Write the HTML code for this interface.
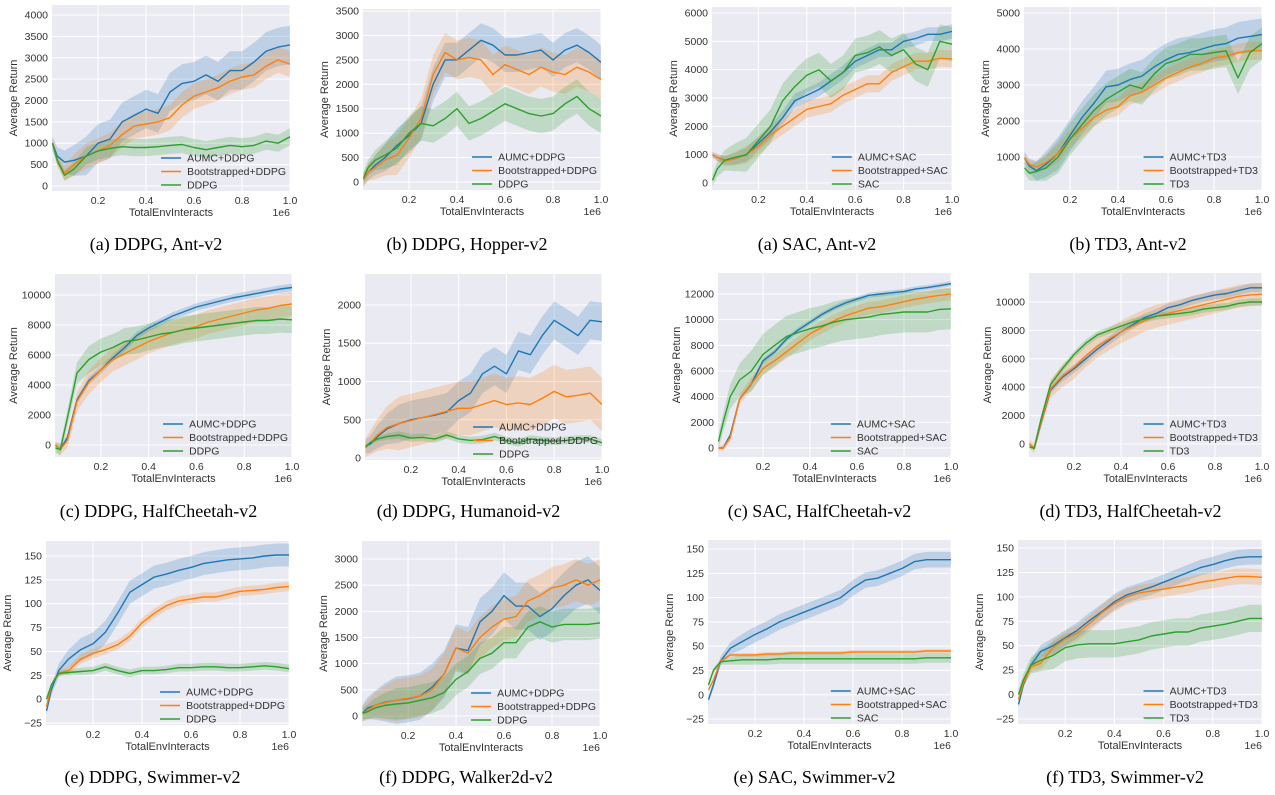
<!DOCTYPE html>
<html><head><meta charset="utf-8"><style>
html,body{margin:0;padding:0;background:#fff;}
svg{display:block;font-family:"Liberation Sans",sans-serif;}
.cap{font-family:"Liberation Serif",serif;font-size:18px;fill:#000;}
</style></head><body>
<svg id="fig" width="1275" height="795" viewBox="0 0 1275 795" xmlns="http://www.w3.org/2000/svg"></svg>
<script>
const X = [0.01,0.03,0.06,0.1,0.15,0.2,0.25,0.3,0.35,0.4,0.45,0.5,0.55,0.6,0.65,0.7,0.75,0.8,0.85,0.9,0.95,1.0];
const xTicks = [0.2,0.4,0.6,0.8,1.0];
const xTickLabels = ["0.2","0.4","0.6","0.8","1.0"];

// Panel 1: DDPG Ant
const p1Aumc = [1000,700,560,600,700,1000,1100,1500,1650,1800,1700,2200,2400,2450,2600,2450,2700,2700,2900,3150,3250,3300];
const p1Boot = [1000,600,300,500,700,820,950,1200,1400,1450,1500,1600,1900,2100,2200,2300,2450,2550,2600,2800,2950,2850];
const p1Base = [1000,600,250,400,700,820,880,920,900,900,920,950,970,900,850,900,950,920,950,1050,1000,1150];
const p1Spread = [450,300,200];
// Panel 2: DDPG Hopper
const p2Aumc = [50,200,350,500,750,950,1200,2000,2500,2500,2700,2900,2800,2600,2600,2650,2700,2500,2700,2800,2650,2450];
const p2Boot = [50,200,300,450,550,900,1300,2200,2650,2500,2550,2500,2200,2400,2300,2200,2350,2250,2200,2350,2250,2100];
const p2Base = [80,300,450,550,700,1000,1200,1150,1300,1500,1200,1300,1450,1600,1500,1400,1350,1400,1600,1750,1500,1350];
const p2Spread = [350,400,350];
// Panel 3: SAC Ant
const p3Aumc = [1000,900,800,850,1000,1400,1800,2300,2900,3100,3300,3600,3900,4300,4500,4700,4700,5000,5100,5250,5250,5350];
const p3Boot = [1000,900,780,850,1000,1300,1700,2000,2300,2600,2700,2800,3100,3300,3500,3500,3900,4100,4300,4300,4400,4380];
const p3Base = [100,500,800,900,1000,1500,2000,2900,3400,3800,4000,3600,3900,4500,4600,4800,4500,4700,4200,4000,5000,4900];
const p3Spread = [250,300,600];
// Panel 4: TD3 Ant
const p4Aumc = [980,750,620,800,1100,1600,2100,2500,2950,3000,3150,3250,3500,3700,3850,3900,4000,4100,4150,4300,4350,4400];
const p4Boot = [980,800,720,850,1100,1500,1800,2100,2300,2400,2700,2800,3000,3200,3350,3500,3600,3750,3800,3900,3950,3950];
const p4Base = [700,550,600,700,1000,1500,1900,2300,2600,2800,3000,2900,3300,3600,3700,3850,3850,3900,3950,3200,3900,4150];
const p4Spread = [450,250,450];
// Panel 5: DDPG HalfCheetah
const p5Aumc = [0,-300,500,3000,4300,5000,5800,6500,7300,7800,8200,8600,8900,9200,9400,9600,9800,9950,10100,10250,10400,10500];
const p5Boot = [0,-300,300,2900,4200,5000,5700,6100,6500,6900,7200,7500,7700,7900,8200,8400,8600,8800,9000,9100,9300,9400];
const p5Base = [-200,-300,1800,4800,5700,6200,6500,6900,7000,7200,7400,7500,7700,7800,7900,8000,8100,8200,8300,8300,8400,8350];
const p5Spread = [250,800,900];
// Panel 6: DDPG Humanoid
const p6Aumc = [150,180,280,380,450,500,530,560,600,750,850,1100,1200,1100,1400,1350,1600,1800,1700,1600,1800,1780];
const p6Boot = [130,200,300,400,450,490,530,570,610,650,650,700,750,700,720,700,780,870,800,820,850,700];
const p6Base = [150,200,250,280,300,260,270,250,300,250,230,240,280,230,200,250,230,220,230,250,250,200];
const p6Spread = [250,350,50];
// Panel 7: SAC HalfCheetah
const p7Aumc = [0,0,1000,3800,5000,6800,7500,8500,9200,9800,10400,10900,11300,11600,11900,12000,12100,12200,12400,12500,12650,12800];
const p7Boot = [0,0,800,3800,5000,6200,6800,7500,8200,8900,9400,9900,10300,10600,10900,11000,11200,11400,11600,11750,11900,12000];
const p7Base = [500,2000,4000,5300,6000,7300,8000,8700,9000,9300,9500,9800,10000,10100,10200,10400,10500,10600,10600,10600,10800,10850];
const p7Spread = [200,500,1600];
// Panel 8: TD3 HalfCheetah
const p8Aumc = [0,-300,1500,3800,4700,5300,6000,6700,7300,7900,8400,8900,9200,9600,9800,10100,10300,10500,10600,10800,11000,11000];
const p8Boot = [0,-300,1600,3900,4800,5400,6200,6900,7400,7900,8300,8700,9000,9200,9400,9600,9800,10000,10200,10400,10500,10550];
const p8Base = [-200,-300,1800,4200,5300,6300,7100,7700,8000,8300,8600,8800,9000,9100,9200,9300,9500,9600,9700,9900,10000,10000];
const p8Spread = [300,800,250];
// Panel 9: DDPG Swimmer
const p9Aumc = [-12,10,30,42,52,58,70,90,112,120,128,131,135,138,142,144,146,147,148,150,151,151];
const p9Boot = [-8,15,27,30,42,48,52,57,66,80,90,98,103,105,107,107,110,113,114,115,117,118];
const p9Base = [0,15,27,28,29,30,34,30,27,30,30,31,33,33,34,34,33,33,34,35,34,32];
const p9Spread = [12,5,4];
// Panel 10: DDPG Walker2d
const p10Aumc = [50,150,200,260,300,330,380,550,800,1300,1250,1800,2000,2300,2100,2100,1900,2050,2300,2500,2600,2400];
const p10Boot = [50,100,200,250,300,340,380,500,800,1300,1200,1500,1700,1850,1900,2200,2300,2450,2500,2600,2500,2600];
const p10Base = [50,80,150,200,230,250,300,350,450,700,850,1100,1200,1400,1400,1700,1800,1700,1750,1750,1750,1780];
const p10Spread = [450,400,300];
// Panel 11: SAC Swimmer
const p11Aumc = [-5,10,35,48,55,62,68,75,80,85,90,95,100,110,118,120,125,130,137,139,139,139];
const p11Boot = [5,15,35,41,41,41,42,42,43,43,43,43,43,44,44,44,44,44,44,45,45,45];
const p11Base = [10,25,34,35,36,36,36,37,37,37,37,37,37,37,37,37,37,37,37,38,38,38];
const p11Spread = [8,2,5];
// Panel 12: TD3 Swimmer
const p12Aumc = [-10,10,30,44,50,58,66,76,85,95,102,106,110,115,120,125,130,133,137,140,141,141];
const p12Boot = [-5,12,28,32,48,57,63,73,84,93,100,104,106,108,110,112,115,117,119,121,121,120];
const p12Base = [0,15,30,35,40,48,51,52,52,52,54,56,60,62,64,64,68,70,72,75,78,78];
const p12Spread = [8,8,14];

const panels = [
 {box:[52,5,290,191], y:[-117,4234], t:[0,500,1000,1500,2000,2500,3000,3500,4000], s:[p1Aumc,p1Boot,p1Base], sp:p1Spread, alg:"DDPG", cap:"(a)  DDPG, Ant-v2"},
 {box:[363,9,601,190], y:[-164,3541], t:[0,500,1000,1500,2000,2500,3000,3500], s:[p2Aumc,p2Boot,p2Base], sp:p2Spread, alg:"DDPG", cap:"(b)  DDPG, Hopper-v2"},
 {box:[712,7,952,190], y:[-247,6212], t:[0,1000,2000,3000,4000,5000,6000], s:[p3Aumc,p3Boot,p3Base], sp:p3Spread, alg:"SAC", cap:"(a)  SAC, Ant-v2"},
 {box:[1024,7,1262,190], y:[83,5167], t:[1000,2000,3000,4000,5000], s:[p4Aumc,p4Boot,p4Base], sp:p4Spread, alg:"TD3", cap:"(b)  TD3, Ant-v2"},
 {box:[55,274,292,457], y:[-800,11400], t:[0,2000,4000,6000,8000,10000], s:[p5Aumc,p5Boot,p5Base], sp:p5Spread, alg:"DDPG", cap:"(c)  DDPG, HalfCheetah-v2"},
 {box:[365,274,602,460], y:[-26,2405], t:[0,500,1000,1500,2000], s:[p6Aumc,p6Boot,p6Base], sp:p6Spread, alg:"DDPG", cap:"(d)  DDPG, Humanoid-v2"},
 {box:[718,273,951,457], y:[-701,13637], t:[0,2000,4000,6000,8000,10000,12000], s:[p7Aumc,p7Boot,p7Base], sp:p7Spread, alg:"SAC", cap:"(c)  SAC, HalfCheetah-v2"},
 {box:[1029,273,1262,457], y:[-915,12042], t:[0,2000,4000,6000,8000,10000], s:[p8Aumc,p8Boot,p8Base], sp:p8Spread, alg:"TD3", cap:"(d)  TD3, HalfCheetah-v2"},
 {box:[46,541,289,725], y:[-27,165.7], t:[-25,0,25,50,75,100,125,150], s:[p9Aumc,p9Boot,p9Base], sp:p9Spread, alg:"DDPG", cap:"(e)  DDPG, Swimmer-v2"},
 {box:[362,541,600,726], y:[-191,3344], t:[0,500,1000,1500,2000,2500,3000], s:[p10Aumc,p10Boot,p10Base], sp:p10Spread, alg:"DDPG", cap:"(f)  DDPG, Walker2d-v2"},
 {box:[708,540,951,724], y:[-30.1,159.3], t:[-25,0,25,50,75,100,125,150], s:[p11Aumc,p11Boot,p11Base], sp:p11Spread, alg:"SAC", cap:"(e)  SAC, Swimmer-v2"},
 {box:[1018,540,1262,724], y:[-30.1,158.2], t:[-25,0,25,50,75,100,125,150], s:[p12Aumc,p12Boot,p12Base], sp:p12Spread, alg:"TD3", cap:"(f)  TD3, Swimmer-v2"}
];
const colors = ["#1f77b4","#ff7f0e","#2ca02c"];
const capBaselines = {5:250,7:250,9:250,273:517,274:517,540:783,541:783};
const NS = "http://www.w3.org/2000/svg";
const svg = document.getElementById("fig");
function mk(tag, attrs, parent){
  const e = document.createElementNS(NS, tag);
  for (const k in attrs) e.setAttribute(k, attrs[k]);
  (parent||svg).appendChild(e);
  return e;
}
panels.forEach((p, pi) => {
  const [L,T,R,B] = p.box;
  const g = mk("g", {});
  
  
  const xs = v => L + (v - 0.008) / (1.0 - 0.008) * (R - L);
  const ys = v => B - (v - p.y[0]) / (p.y[1] - p.y[0]) * (B - T);
  const bg = mk("rect", {x:L, y:T, width:R-L, height:B-T, fill:"#eaeaf2"}, g);
  
  
  xTicks.forEach((t, i) => {
    mk("line", {x1:xs(t), x2:xs(t), y1:T, y2:B, stroke:"#fff", "stroke-width":1}, g);
    const tl = mk("text", {x:xs(t), y:B+13, "font-size":10.5, fill:"#333", "text-anchor":"middle"}, g);
    tl.textContent = xTickLabels[i];
    
    
  });
  p.t.forEach(t => {
    mk("line", {x1:L, x2:R, y1:ys(t), y2:ys(t), stroke:"#fff", "stroke-width":1}, g);
    const tl = mk("text", {x:L-4, y:ys(t)+3.5, "font-size":10.5, fill:"#333", "text-anchor":"end"}, g);
    tl.textContent = t < 0 ? "\u2212" + (-t) : String(t);
    
    
  });
  const clipId = "clip" + pi;
  const cp = mk("clipPath", {id:clipId}, g);
  mk("rect", {x:L, y:T, width:R-L, height:B-T}, cp);
  const plotG = mk("g", {"clip-path":"url(#"+clipId+")"}, g);
  // bands
  p.s.forEach((ser, si) => {
    const w = x => p.sp[si] * Math.min(1, 0.3 + x / 0.2);
    let d = "";
    X.forEach((x, i) => { d += (i ? "L" : "M") + xs(x).toFixed(1) + "," + ys(ser[i] + w(x)).toFixed(1); });
    for (let i = X.length - 1; i >= 0; i--) d += "L" + xs(X[i]).toFixed(1) + "," + ys(ser[i] - w(X[i])).toFixed(1);
    const band = mk("path", {d: d + "Z", fill: colors[si], "fill-opacity": 0.22, stroke:"none"}, plotG);
    
    
  });
  p.s.forEach((ser, si) => {
    let d = "";
    X.forEach((x, i) => { d += (i ? "L" : "M") + xs(x).toFixed(1) + "," + ys(ser[i]).toFixed(1); });
    const line = mk("path", {d, fill:"none", stroke: colors[si], "stroke-width":1.4, "stroke-linejoin":"round"}, plotG);
    
    
  });
  // axis labels
  const xl = mk("text", {x:(L+R)/2, y:B+25, "font-size":11, fill:"#333", "text-anchor":"middle"}, g);
  xl.textContent = "TotalEnvInteracts";
  
  
  const ex = mk("text", {x:R, y:B+25, "font-size":10.5, fill:"#333", "text-anchor":"end"}, g);
  ex.textContent = "1e6";
  
  
  const yOff = p.t[p.t.length-1] >= 10000 ? 38 : 35;
  const yl = mk("text", {x:0, y:0, "font-size":11, fill:"#333", "text-anchor":"middle", transform:"translate("+(L-yOff)+","+((T+B)/2)+") rotate(-90)"}, g);
  yl.textContent = "Average Return";
  
  
  // legend
  const names = ["AUMC+" + p.alg, "Bootstrapped+" + p.alg, p.alg];
  const lg = mk("g", {}, g);
  
  
  const texts = [];
  names.forEach((n, i) => {
    const tx = mk("text", {x:0, y:B-33+i*13.5+3.5, "font-size":10.5, fill:"#333"}, lg);
    tx.textContent = n;
    
    
    texts.push(tx);
  });
  let maxW = 0;
  texts.forEach(t => { maxW = Math.max(maxW, t.getComputedTextLength()); });
  const tx0 = R - maxW - 4;
  texts.forEach((t, i) => {
    t.setAttribute("x", tx0);
    const sw = mk("line", {x1:tx0-26, x2:tx0-6, y1:B-33+i*13.5, y2:B-33+i*13.5, stroke:colors[i], "stroke-width":1.6}, lg);
    
    
  });
  const cap = mk("text", {x:((L-30)+R)/2, y:capBaselines[T], "text-anchor":"middle", class:"cap"}, g);
  cap.textContent = p.cap;
  
  
});
</script>
</body></html>
